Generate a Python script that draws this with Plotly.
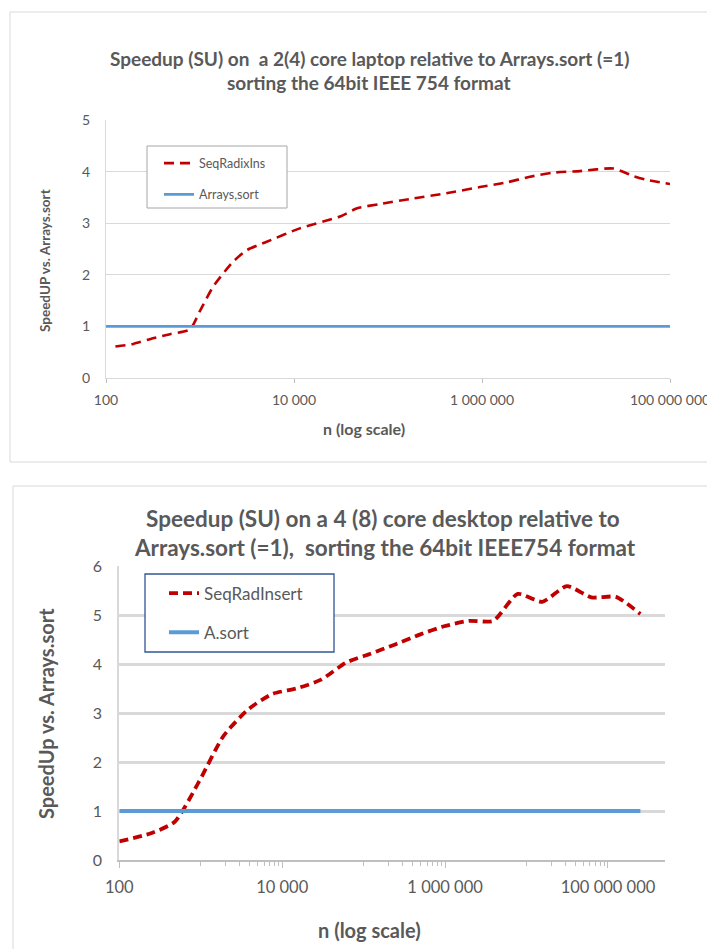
import plotly.graph_objects as go

# ---------------- data ----------------
# Top chart: 2(4) core laptop
top_n = [126, 195, 316, 480, 780, 1000, 1380, 2240, 3160, 5130, 11500, 31000, 47000,
         81000, 186000, 417000, 950000, 1820000, 3240000, 5750000, 11000000,
         25000000, 41000000, 56000000, 100000000]
top_su = [0.61, 0.66, 0.77, 0.85, 0.94, 1.30, 1.77, 2.25, 2.48, 2.64, 2.90, 3.13, 3.29,
          3.37, 3.48, 3.58, 3.70, 3.79, 3.90, 3.98, 4.01,
          4.06, 3.91, 3.84, 3.76]
top_ref_n = [100, 100000000]
top_ref_su = [1, 1]

# Bottom chart: 4(8) core desktop
bot_n = [100, 240, 480, 960, 1900, 3800, 7600, 15000, 30000, 61000, 122000, 244000,
         488000, 977000, 1950000, 3900000, 7800000, 15600000, 31250000, 62500000,
         125000000, 250000000]
bot_su = [0.38, 0.54, 0.78, 1.61, 2.53, 3.07, 3.39, 3.50, 3.68, 4.03, 4.21, 4.40,
          4.60, 4.77, 4.88, 4.88, 5.43, 5.27, 5.59, 5.36, 5.37, 5.02]
bot_ref_n = [100, 250000000]
bot_ref_su = [1, 1]

x_tickvals = [100, 10000, 1000000, 100000000]
x_ticktext = ["100", "10 000", "1 000 000", "100 000 000"]
bot_minor = [1000, 2000, 3000, 4000, 5000, 6000, 7000, 8000, 9000,
             100000, 200000, 300000, 400000, 500000, 600000, 700000, 800000, 900000,
             10000000, 20000000, 30000000, 40000000, 50000000, 60000000, 70000000,
             80000000, 90000000]

top_title = ["Speedup (SU) on  a 2(4) core laptop relative to Arrays.sort (=1)",
             "sorting the 64bit IEEE 754 format"]
bot_title = ["Speedup (SU) on a 4 (8) core desktop relative to",
             "Arrays.sort (=1),  sorting the 64bit IEEE754 format"]

# ---------------- style ----------------
W, H = 707, 949
FONT = "Lato"
TXT = "#595959"
RED = "#C00000"
BLUE = "#5B9BD5"
GRID = "#D9D9D9"


def px(x):
    return x / W


def py(y):
    return 1 - y / H


fig = go.Figure()

fig.add_trace(go.Scatter(x=top_n, y=top_su, name="SeqRadixIns", mode="lines",
                         line=dict(color=RED, width=2.6, dash="10px,6px", shape="spline", smoothing=0.6),
                         xaxis="x", yaxis="y", legend="legend", legendgroup="a"))
fig.add_trace(go.Scatter(x=top_ref_n, y=top_ref_su, name="Arrays,sort", mode="lines",
                         line=dict(color=BLUE, width=2.6),
                         xaxis="x", yaxis="y", legend="legend", legendgroup="b"))
fig.add_trace(go.Scatter(x=bot_n, y=bot_su, name="SeqRadInsert", mode="lines",
                         line=dict(color=RED, width=3.8, dash="9px,5px", shape="spline", smoothing=0.6),
                         xaxis="x2", yaxis="y2", legend="legend2", legendgroup="c"))
fig.add_trace(go.Scatter(x=bot_ref_n, y=bot_ref_su, name="A.sort", mode="lines",
                         line=dict(color=BLUE, width=4),
                         xaxis="x2", yaxis="y2", legend="legend2", legendgroup="d"))


def ann(text, x, y, size, angle=0):
    return dict(text="<b>%s</b>" % text, x=px(x), y=py(y), showarrow=False,
                xref="paper", yref="paper", xanchor="center", yanchor="middle",
                textangle=angle, font=dict(family=FONT, size=size, color=TXT))


annotations = [
    ann(top_title[0], 369, 58, 19),
    ann(top_title[1], 369, 82, 19),
    ann("SpeedUP vs. Arrays.sort", 45, 261, 13.5, -90),
    ann("n (log scale)", 364, 428, 16),
    ann(bot_title[0], 383, 518, 22.5),
    ann(bot_title[1], 385, 547, 22.5),
    ann("SpeedUp vs. Arrays.sort", 46, 714, 20, -90),
    ann("n (log scale)", 369, 930, 20),
]

shapes = [
    # chart frames
    dict(type="rect", xref="paper", yref="paper", x0=px(10), x1=px(740), y0=py(462), y1=py(12),
         line=dict(color=GRID, width=1), layer="below"),
    dict(type="rect", xref="paper", yref="paper", x0=px(13), x1=px(740), y0=py(990), y1=py(486),
         line=dict(color=GRID, width=1), layer="below"),
    # legend frames
    dict(type="rect", xref="paper", yref="paper", x0=px(147), x1=px(287), y0=py(208), y1=py(146),
         line=dict(color="#A6A6A6", width=1), fillcolor="white", layer="above"),
    dict(type="rect", xref="paper", yref="paper", x0=px(145), x1=px(334), y0=py(652), y1=py(574),
         line=dict(color="#2F5597", width=1.3), fillcolor="white", layer="above"),
]

fig.update_layout(
    width=W, height=H, margin=dict(l=0, r=0, t=0, b=0, autoexpand=False),
    paper_bgcolor="white", plot_bgcolor="white",
    font=dict(family=FONT, color=TXT),
    annotations=annotations, shapes=shapes,
    xaxis=dict(type="log", domain=[px(106), px(670)], range=[2, 8], anchor="y",
               automargin=False, ticklabeloverflow="allow",
               tickvals=x_tickvals, ticktext=x_ticktext, ticks="outside", ticklen=4,
               tickcolor="#BFBFBF", showline=True, linecolor=GRID, linewidth=1,
               showgrid=False, zeroline=False, tickfont=dict(size=14, color=TXT),
               ticklabelstandoff=5),
    yaxis=dict(domain=[py(378), py(120)], range=[0, 5], dtick=1, anchor="x",
               automargin=False,
               showgrid=True, gridcolor=GRID, gridwidth=1, showline=True, linecolor=GRID,
               linewidth=1, zeroline=False, ticks="", tickfont=dict(size=14, color=TXT),
               ticklabelstandoff=12),
    xaxis2=dict(type="log", domain=[px(119.3), px(665)], range=[2, 8.7], anchor="y2",
                automargin=False, ticklabeloverflow="allow",
                tickvals=x_tickvals, ticktext=x_ticktext, ticks="outside", ticklen=6,
                tickcolor="#BFBFBF", showline=True, linecolor="#BFBFBF", linewidth=1.5,
                showgrid=False, zeroline=False, tickfont=dict(size=16.5, color=TXT),
                ticklabelstandoff=5,
                minor=dict(tickvals=bot_minor, ticks="outside", ticklen=4, tickcolor="#BFBFBF",
                           showgrid=False)),
    yaxis2=dict(domain=[py(860), py(566)], range=[0, 6], dtick=1, anchor="x2",
                automargin=False,
                showgrid=True, gridcolor=GRID, gridwidth=3, showline=True, linecolor=GRID,
                linewidth=2, zeroline=False, ticks="", tickfont=dict(size=16, color=TXT),
                ticklabelstandoff=12),
    legend=dict(x=px(159), y=py(148.5), xanchor="left", yanchor="top",
                borderwidth=0, bgcolor="rgba(0,0,0,0)",
                font=dict(family=FONT, size=12.5, color=TXT), tracegroupgap=12,
                traceorder="grouped"),
    legend2=dict(x=px(164), y=py(575.5), xanchor="left", yanchor="top",
                 borderwidth=0, bgcolor="rgba(0,0,0,0)",
                 font=dict(family=FONT, size=17, color=TXT), tracegroupgap=14,
                 traceorder="grouped"),
    showlegend=True,
)

fig.write_html("out.html", config={"displayModeBar": False},
               post_script="document.body.style.margin='0';")
